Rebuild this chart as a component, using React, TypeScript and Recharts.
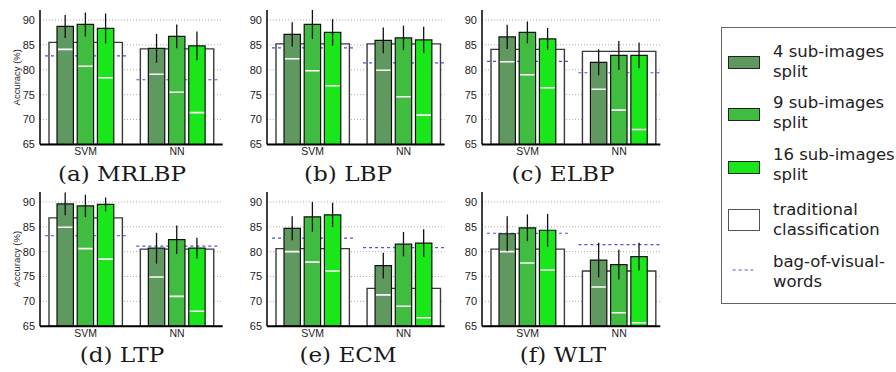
import React from 'react';
import { ComposedChart, Bar, XAxis, YAxis, CartesianGrid, ErrorBar } from 'recharts';

// ---------- data ----------
const categories = ['SVM', 'NN'];
const panelLabels = ['(a) MRLBP', '(b) LBP', '(c) ELBP', '(d) LTP', '(e) ECM', '(f) WLT'];
const yTicks = [65, 70, 75, 80, 85, 90];

// each entry: [SVM, NN] for panels a..f
const traditional = [[85.5, 84.2], [85.2, 85.2], [84.1, 83.7], [86.8, 80.5], [80.6, 72.6], [80.5, 76.1]];
const bagOfWords = [[82.8, 78.0], [84.4, 81.4], [81.7, 79.4], [83.2, 81.1], [82.7, 80.8], [83.7, 81.4]];
const split4 = [[88.7, 84.3], [87.1, 85.9], [86.6, 81.5], [89.6, 80.7], [84.7, 77.2], [83.6, 78.3]];
const split9 = [[89.1, 86.7], [89.1, 86.4], [87.5, 82.9], [89.2, 82.4], [87.0, 81.5], [84.8, 77.4]];
const split16 = [[88.3, 84.8], [87.5, 86.0], [86.2, 82.9], [89.5, 80.7], [87.4, 81.7], [84.3, 79.0]];
const split4Err = [[2.3, 2.9], [2.45, 2.6], [2.45, 2.6], [2.3, 3.1], [2.4, 2.6], [3.5, 3.5]];
const split9Err = [[2.4, 2.4], [2.9, 2.45], [2.2, 2.9], [2.25, 2.85], [3.0, 2.45], [2.7, 3.0]];
const split16Err = [[3.0, 2.9], [2.65, 2.65], [2.2, 2.6], [1.4, 2.1], [2.45, 2.8], [3.3, 2.8]];
const split4Mark = [[84.1, 79.1], [82.2, 79.9], [81.6, 76.1], [84.9, 74.9], [80.0, 71.3], [80.0, 72.9]];
const split9Mark = [[80.7, 75.5], [79.8, 74.6], [79.0, 71.9], [80.6, 71.0], [77.9, 69.0], [77.7, 67.7]];
const split16Mark = [[78.4, 71.4], [76.8, 70.9], [76.4, 68.0], [78.5, 68.0], [76.1, 66.7], [76.3, 65.7]];

const legendLabels = [
  ['4 sub-images', 'split'],
  ['9 sub-images', 'split'],
  ['16 sub-images', 'split'],
  ['traditional', 'classification'],
  ['bag-of-visual-', 'words'],
];

// ---------- styles / layout ----------
const C4 = '#5f9960';
const C9 = '#40bd40';
const C16 = '#1ae71a';
const BOW = '#4f4fdc';

const colPlotLeft = [40, 266.7, 481.7];
const colPlotRight = [222.7, 444.3, 660];
const colXMax = [1.5, 1.45, 1.45];
const rowPlotTop = [10, 191.8];
const rowPlotBottom = [144.5, 326];
const captionCenter = [121.5, 348, 563];
const captionTop = [164, 345];

const Y_AXIS_W = 40;
const M_TOP = 5;
const M_RIGHT = 5;
const X_AXIS_H = 20;

const tickFont = { fontFamily: 'Liberation Sans, Arial, sans-serif', fill: '#222' };

const WhiteMark = (props: any) => {
  const { x, y, width } = props;
  return <line x1={x + 1} x2={x + width - 1} y1={y} y2={y} stroke="#ffffff" strokeWidth={1.6} />;
};
const DashMark = (props: any) => {
  const { x, y, width } = props;
  return <line x1={x} x2={x + width} y1={y} y2={y} stroke={BOW} strokeWidth={1.2} strokeDasharray="3 3" />;
};

// vertical grid lines only at the category positions, through the axis scale
const categoryGridX = (gp: any) => {
  const s = gp && gp.xAxis && gp.xAxis.scale;
  if (typeof s === 'function') return categories.map((_, k) => s(k));
  return [];
};

function Panel({ i }: { i: number }) {
  const col = i % 3;
  const row = Math.floor(i / 3);
  const plotW = colPlotRight[col] - colPlotLeft[col];
  const plotH = rowPlotBottom[row] - rowPlotTop[row];
  const width = Y_AXIS_W + plotW + M_RIGHT;
  const height = M_TOP + plotH + X_AXIS_H;
  const left = colPlotLeft[col] - Y_AXIS_W;
  const top = rowPlotTop[row] - M_TOP;

  const data = categories.map((name, k) => ({
    x: k,
    name,
    trad: traditional[i][k],
    bow: bagOfWords[i][k],
    s4: split4[i][k],
    s9: split9[i][k],
    s16: split16[i][k],
    e4: split4Err[i][k],
    e9: split9Err[i][k],
    e16: split16Err[i][k],
    m4: split4Mark[i][k],
    m9: split9Mark[i][k],
    m16: split16Mark[i][k],
  }));
  const domain: [number, number] = [-0.5, colXMax[col]];

  const hiddenAxis = (id: string) => (
    <XAxis
      key={id}
      xAxisId={id}
      type="number"
      dataKey="x"
      domain={domain}
      ticks={[0, 1]}
      allowDataOverflow
      hide
      height={0}
    />
  );

  return (
    <div style={{ position: 'absolute', left, top, width, height }}>
      <ComposedChart
        width={width}
        height={height}
        data={data}
        margin={{ top: M_TOP, right: M_RIGHT, bottom: 0, left: 0 }}
        barGap={3.8}
      >
        <CartesianGrid
          xAxisId="x"
          syncWithTicks
          verticalCoordinatesGenerator={categoryGridX}
          stroke="#aaaaaa"
          strokeDasharray="1 2"
          strokeWidth={1}
        />
        <XAxis
          xAxisId="x"
          type="number"
          dataKey="x"
          domain={domain}
          ticks={[0, 1]}
          allowDataOverflow
          tickFormatter={(v: number) => categories[v]}
          axisLine={{ stroke: '#000', strokeWidth: 2 }}
          tickLine={false}
          tickSize={0}
          tickMargin={3}
          height={X_AXIS_H}
          tick={{ ...tickFont, fontSize: 10.5 }}
        />
        {hiddenAxis('bg')}
        {hiddenAxis('bw')}
        {hiddenAxis('ln')}
        <YAxis
          type="number"
          domain={[65, 92]}
          ticks={yTicks}
          allowDataOverflow
          width={Y_AXIS_W}
          axisLine={{ stroke: '#000', strokeWidth: 1.5 }}
          tickLine={false}
          tickSize={3}
          tick={{ ...tickFont, fontSize: 11 }}
          label={
            col === 0
              ? {
                  value: 'Accuracy (%)',
                  angle: -90,
                  position: 'insideLeft',
                  offset: 17,
                  style: { textAnchor: 'middle', fontSize: 9.5, fontFamily: 'Liberation Sans, Arial, sans-serif', fill: '#222' },
                }
              : undefined
          }
        />
        <Bar xAxisId="bg" dataKey="trad" barSize={73.4} fill="#ffffff" stroke="#3a3a3a" strokeWidth={1.4} isAnimationActive={false} />
        <Bar xAxisId="bw" dataKey="bow" barSize={81} shape={DashMark} isAnimationActive={false} />
        <Bar xAxisId="x" dataKey="s4" barSize={16.4} fill={C4} stroke="#111" strokeWidth={1.2} isAnimationActive={false}>
          <ErrorBar dataKey="e4" width={0} stroke="#111" strokeWidth={1.3} direction="y" isAnimationActive={false} />
        </Bar>
        <Bar xAxisId="x" dataKey="s9" barSize={16.4} fill={C9} stroke="#111" strokeWidth={1.2} isAnimationActive={false}>
          <ErrorBar dataKey="e9" width={0} stroke="#111" strokeWidth={1.3} direction="y" isAnimationActive={false} />
        </Bar>
        <Bar xAxisId="x" dataKey="s16" barSize={16.4} fill={C16} stroke="#111" strokeWidth={1.2} isAnimationActive={false}>
          <ErrorBar dataKey="e16" width={0} stroke="#111" strokeWidth={1.3} direction="y" isAnimationActive={false} />
        </Bar>
        <Bar xAxisId="ln" dataKey="m4" barSize={16.4} shape={WhiteMark} isAnimationActive={false} />
        <Bar xAxisId="ln" dataKey="m9" barSize={16.4} shape={WhiteMark} isAnimationActive={false} />
        <Bar xAxisId="ln" dataKey="m16" barSize={16.4} shape={WhiteMark} isAnimationActive={false} />
      </ComposedChart>
    </div>
  );
}

function Caption({ i }: { i: number }) {
  const col = i % 3;
  const row = Math.floor(i / 3);
  return (
    <div
      style={{
        position: 'absolute',
        left: captionCenter[col] - 100,
        width: 200,
        top: captionTop[row],
        textAlign: 'center',
        fontFamily: 'DejaVu Serif, serif',
        fontSize: 21,
        lineHeight: 1,
        color: '#1a1a1a',
        transform: 'scaleX(1.1)',
        whiteSpace: 'nowrap',
      }}
    >
      {panelLabels[i]}
    </div>
  );
}

const swatchStyles: React.CSSProperties[] = [
  { left: 728, top: 56, width: 32, height: 13, background: C4, border: '1px solid #222', boxSizing: 'border-box' },
  { left: 728, top: 108.3, width: 32, height: 13, background: C9, border: '1px solid #222', boxSizing: 'border-box' },
  { left: 728, top: 160.7, width: 32, height: 13, background: C16, border: '1px solid #222', boxSizing: 'border-box' },
  { left: 728, top: 208.7, width: 32, height: 22, background: '#fff', border: '1px solid #555', boxSizing: 'border-box' },
];
const legendTextTop = [41.7, 93.3, 145, 200, 251.7];

function LegendBox() {
  return (
    <>
      <div
        style={{
          position: 'absolute',
          left: 721,
          top: 27,
          width: 200,
          height: 277,
          border: '1.5px solid #666',
          boxSizing: 'border-box',
          background: '#fff',
        }}
      />
      {swatchStyles.map((s, k) => (
        <div key={k} style={{ position: 'absolute', ...s }} />
      ))}
      <svg style={{ position: 'absolute', left: 728, top: 265 }} width={32} height={10}>
        <line x1={4.7} x2={25.3} y1={5} y2={5} stroke={BOW} strokeWidth={1.2} strokeDasharray="3 3" />
      </svg>
      {legendLabels.map((lines, k) => (
        <div
          key={k}
          style={{
            position: 'absolute',
            left: 773,
            top: legendTextTop[k],
            fontFamily: 'DejaVu Sans, sans-serif',
            fontSize: 16.5,
            lineHeight: '20px',
            color: '#222',
            whiteSpace: 'nowrap',
          }}
        >
          {lines.map((t, j) => (
            <div key={j}>{t}</div>
          ))}
        </div>
      ))}
    </>
  );
}

export default function App() {
  return (
    <div
      style={{
        position: 'absolute',
        left: 0,
        top: 0,
        width: 896,
        height: 372,
        overflow: 'hidden',
        background: '#fff',
      }}
    >
      {panelLabels.map((_, i) => (
        <Panel key={i} i={i} />
      ))}
      {panelLabels.map((_, i) => (
        <Caption key={'c' + i} i={i} />
      ))}
      <LegendBox />
    </div>
  );
}
